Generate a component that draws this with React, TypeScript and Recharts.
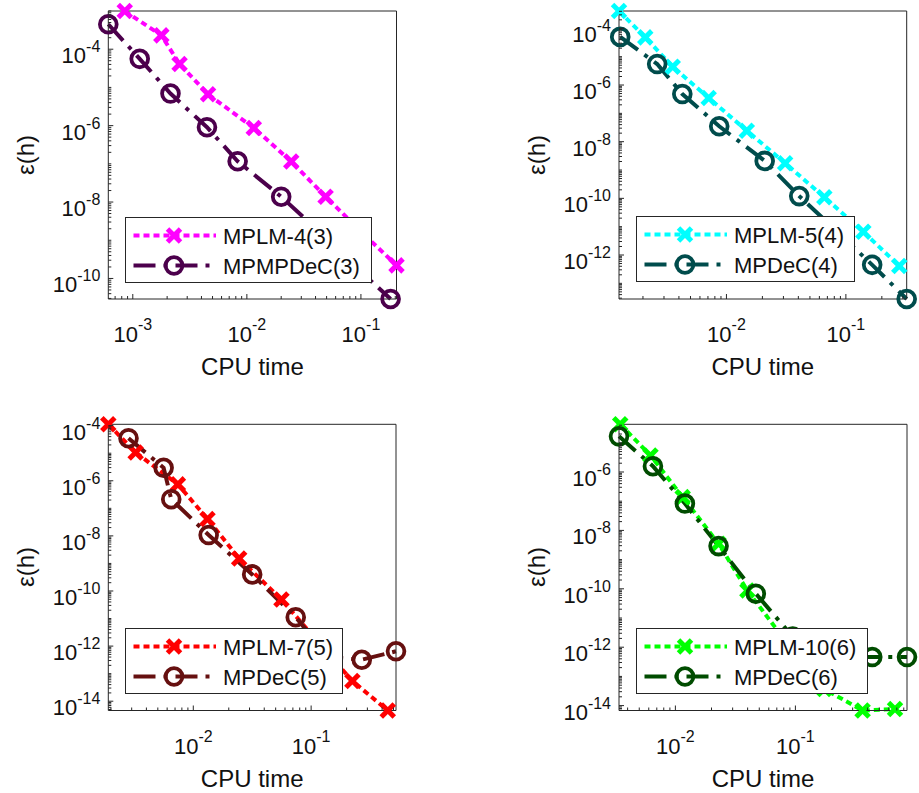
import React from "react";
import { ComposedChart, Line, XAxis, YAxis, Legend } from "recharts";

// CPU time (s) and error eps(h) per scheme, one pair of arrays per curve
const lm43Time = [8.5e-4, 1.78e-3, 2.57e-3, 4.57e-3, 1.15e-2, 2.45e-2, 4.9e-2, 1.0e-1, 0.205];
const lm43Err = [1.0e-3, 2.3e-4, 4.1e-5, 6.6e-6, 8.7e-7, 1.15e-7, 1.38e-8, 1.7e-9, 2.2e-10];
const dec3Time = [6.1e-4, 1.15e-3, 2.14e-3, 4.47e-3, 8.3e-3, 2.0e-2, 4.2e-2, 8.7e-2, 0.182];
const dec3Err = [4.5e-4, 5.6e-5, 6.9e-6, 9.1e-7, 1.17e-7, 1.38e-8, 1.8e-9, 2.2e-10, 2.9e-11];

const lm54Time = [1.26e-3, 2.09e-3, 3.55e-3, 7.1e-3, 1.48e-2, 3.1e-2, 6.6e-2, 0.14, 0.28];
const lm54Err = [4.1e-4, 4.8e-5, 4.4e-6, 3.5e-7, 2.45e-8, 1.74e-9, 1.1e-10, 6.6e-12, 4.1e-13];
const dec4Time = [1.29e-3, 2.63e-3, 4.27e-3, 8.7e-3, 2.09e-2, 4.07e-2, 8.1e-2, 0.166, 0.323];
const dec4Err = [5.0e-5, 5.5e-6, 4.8e-7, 3.5e-8, 2.1e-9, 1.2e-10, 7.9e-12, 4.5e-13, 2.8e-14];

const lm75Time = [1.9e-3, 3.24e-3, 7.4e-3, 1.32e-2, 2.45e-2, 5.6e-2, 0.112, 0.224, 0.447];
const lm75Err = [1.12e-4, 1.07e-5, 7.4e-7, 4.1e-8, 1.5e-9, 4.9e-11, 1.6e-12, 5.4e-14, 4.6e-15];
const dec5Time = [2.82e-3, 5.6e-3, 6.5e-3, 1.35e-2, 3.16e-2, 7.4e-2, 0.141, 0.269, 0.525];
const dec5Err = [3.5e-5, 2.95e-6, 2.14e-7, 1.07e-8, 4.0e-10, 1.12e-11, 4.0e-13, 3.2e-13, 6.5e-13];

const lm106Time = [3.47e-3, 6.2e-3, 1.15e-2, 2.29e-2, 3.98e-2, 8.3e-2, 0.174, 0.363, 0.676];
const lm106Err = [4.3e-5, 3.7e-6, 1.38e-7, 3.5e-9, 8.7e-11, 1.6e-12, 3.7e-14, 6.8e-15, 7.6e-15];
const dec6Time = [3.39e-3, 6.5e-3, 1.2e-2, 2.29e-2, 4.68e-2, 9.5e-2, 0.209, 0.437, 0.851];
const dec6Err = [1.66e-5, 1.58e-6, 8.3e-8, 2.9e-9, 6.8e-11, 2.3e-12, 4.6e-13, 4.6e-13, 4.6e-13];

// labelled decades on each axis
const xTicksA = [1e-3, 1e-2, 1e-1];
const xTicksB = [1e-2, 1e-1];
const yTicksA = [1e-10, 1e-8, 1e-6, 1e-4];
const yTicksB = [1e-12, 1e-10, 1e-8, 1e-6, 1e-4];
const yTicksC = [1e-14, 1e-12, 1e-10, 1e-8, 1e-6, 1e-4];
const yTicksD = [1e-14, 1e-12, 1e-10, 1e-8, 1e-6];

const FONT = '"Liberation Sans", Arial, Helvetica, sans-serif';
const AXIS = "#262626";
const DOTTED = "6 4";
const DASHDOT = "22 8 4 8";

const toPts = (xs: number[], ys: number[]) => xs.map((x, i) => ({ x, y: ys[i] }));

type Series = { name: string; time: number[]; err: number[]; color: string; kind: "lm" | "dec" };

// plot box of each panel, in page pixels, relative to its own cell
const panels = [
  {
    left: 0, top: 0, width: 460, height: 396,
    box: { left: 108.3, top: 11, right: 396.5, bottom: 299 },
    xTicks: xTicksA, yTicks: yTicksA,
    legend: { left: 125, top: 216.5, width: 247 },
    series: [
      { name: "MPLM-4(3)", time: lm43Time, err: lm43Err, color: "#FF00FF", kind: "lm" },
      { name: "MPMPDeC(3)", time: dec3Time, err: dec3Err, color: "#4C004C", kind: "dec" },
    ] as Series[],
  },
  {
    left: 460, top: 0, width: 459, height: 396,
    box: { left: 159, top: 11, right: 446.7, bottom: 299 },
    xTicks: xTicksB, yTicks: yTicksB,
    legend: { left: 176, top: 216, width: 219 },
    series: [
      { name: "MPLM-5(4)", time: lm54Time, err: lm54Err, color: "#00FFFF", kind: "lm" },
      { name: "MPDeC(4)", time: dec4Time, err: dec4Err, color: "#004C4C", kind: "dec" },
    ] as Series[],
  },
  {
    left: 0, top: 396, width: 460, height: 397,
    box: { left: 108.3, top: 28.3, right: 396, bottom: 314.5 },
    xTicks: xTicksB, yTicks: yTicksC,
    legend: { left: 125, top: 232.3, width: 218 },
    series: [
      { name: "MPLM-7(5)", time: lm75Time, err: lm75Err, color: "#FF0000", kind: "lm" },
      { name: "MPDeC(5)", time: dec5Time, err: dec5Err, color: "#661010", kind: "dec" },
    ] as Series[],
  },
  {
    left: 460, top: 396, width: 459, height: 397,
    box: { left: 159, top: 28.3, right: 447, bottom: 314.5 },
    xTicks: xTicksB, yTicks: yTicksD,
    legend: { left: 176, top: 232.3, width: 232 },
    series: [
      { name: "MPLM-10(6)", time: lm106Time, err: lm106Err, color: "#00FF00", kind: "lm" },
      { name: "MPDeC(6)", time: dec6Time, err: dec6Err, color: "#004C00", kind: "dec" },
    ] as Series[],
  },
];

// all k*10^n ticks inside [lo, hi]
const logTicks = (lo: number, hi: number) => {
  const out: number[] = [];
  for (let n = Math.floor(Math.log10(lo)); n <= Math.ceil(Math.log10(hi)); n++) {
    for (let k = 1; k <= 9; k++) {
      const v = k * Math.pow(10, n);
      if (v >= lo && v <= hi) out.push(v);
    }
  }
  return out;
};

const Cross = ({ cx, cy, color }: any) => (
  <g stroke={color} strokeWidth={5}>
    <line x1={cx - 6.5} y1={cy - 6.5} x2={cx + 6.5} y2={cy + 6.5} />
    <line x1={cx - 6.5} y1={cy + 6.5} x2={cx + 6.5} y2={cy - 6.5} />
  </g>
);

const Ring = ({ cx, cy, color }: any) => (
  <circle cx={cx} cy={cy} r={8.4} fill="none" stroke={color} strokeWidth={3.8} />
);

const Mark = ({ kind, ...rest }: any) => (kind === "lm" ? <Cross {...rest} /> : <Ring {...rest} />);

const makeTick = (side: "bottom" | "top" | "left" | "right", labelled: number[]) => (p: any) => {
  const { x, y, payload } = p;
  const v = payload.value;
  const major = labelled.some((t) => Math.abs(t - v) / t < 1e-9);
  const len = major ? 5 : 3;
  const exp = Math.round(Math.log10(v));
  let tick;
  if (side === "bottom") tick = <line x1={x} y1={y} x2={x} y2={y - len} />;
  else if (side === "top") tick = <line x1={x} y1={y} x2={x} y2={y + len} />;
  else if (side === "left") tick = <line x1={x} y1={y} x2={x + len} y2={y} />;
  else tick = <line x1={x} y1={y} x2={x - len} y2={y} />;
  return (
    <g>
      <g stroke={AXIS} strokeWidth={1}>{tick}</g>
      {major && side === "bottom" && (
        <text x={x} y={y + 43} textAnchor="middle" fontSize={22} fontFamily={FONT} fill="#111">
          <tspan>10</tspan>
          <tspan dy={-12} fontSize={16}>{exp}</tspan>
        </text>
      )}
      {major && side === "left" && (
        <text x={x - 8} y={y + 14} textAnchor="end" fontSize={22} fontFamily={FONT} fill="#111">
          <tspan>10</tspan>
          <tspan dy={-11} fontSize={16}>{exp}</tspan>
        </text>
      )}
    </g>
  );
};

const LegendBox = ({ series, width }: { series: Series[]; width: number }) => (
  <svg width={width} height={66} style={{ display: "block" }}>
    <rect x={0.5} y={0.5} width={width - 1} height={65} fill="#fff" stroke={AXIS} strokeWidth={1} />
    {series.map((s, i) => {
      const cy = 18.5 + i * 30;
      return (
        <g key={s.name}>
          <line
            x1={8.5}
            x2={91}
            y1={cy}
            y2={cy}
            stroke={s.color}
            strokeWidth={4}
            strokeDasharray={s.kind === "lm" ? DOTTED : DASHDOT}
          />
          <Mark kind={s.kind} cx={49} cy={cy} color={s.color} />
          <text x={98} y={cy + 8} fontSize={22} fontFamily={FONT} fill="#111">
            {s.name}
          </text>
        </g>
      );
    })}
  </svg>
);

const AX = 1; // thickness reserved by each axis

const Panel = ({ cfg }: { cfg: (typeof panels)[number] }) => {
  const allX = cfg.series.flatMap((s) => s.time);
  const allY = cfg.series.flatMap((s) => s.err);
  const xDomain = [Math.min(...allX), Math.max(...allX)];
  const yDomain = [Math.min(...allY), Math.max(...allY)];
  const xAll = logTicks(xDomain[0], xDomain[1]);
  const yAll = logTicks(yDomain[0], yDomain[1]);
  const b = cfg.box;
  const margin = {
    top: b.top - AX,
    left: b.left - AX,
    right: cfg.width - b.right - AX,
    bottom: cfg.height - b.bottom - AX,
  };
  const titleStyle: React.CSSProperties = {
    position: "absolute",
    fontFamily: FONT,
    fontSize: 24,
    color: "#111",
    whiteSpace: "nowrap",
  };

  const xProps = {
    dataKey: "x",
    type: "number" as const,
    scale: "log" as const,
    domain: xDomain,
    ticks: xAll,
    interval: 0 as const,
    height: AX,
    tickSize: 0,
    tickMargin: 0,
    tickLine: false,
    axisLine: { stroke: AXIS, strokeWidth: 1 },
  };
  const yProps = {
    dataKey: "y",
    type: "number" as const,
    scale: "log" as const,
    domain: yDomain,
    ticks: yAll,
    interval: 0 as const,
    width: AX,
    tickSize: 0,
    tickMargin: 0,
    tickLine: false,
    axisLine: { stroke: AXIS, strokeWidth: 1 },
  };

  return (
    <div style={{ position: "absolute", left: cfg.left, top: cfg.top, width: cfg.width, height: cfg.height }}>
      <ComposedChart width={cfg.width} height={cfg.height} margin={margin}>
        <XAxis xAxisId="b" {...xProps} tick={makeTick("bottom", cfg.xTicks)} />
        <XAxis xAxisId="t" orientation="top" {...xProps} tick={makeTick("top", cfg.xTicks)} />
        <YAxis yAxisId="l" {...yProps} tick={makeTick("left", cfg.yTicks)} />
        <YAxis yAxisId="r" orientation="right" {...yProps} tick={makeTick("right", cfg.yTicks)} />
        {cfg.series.map((s) => (
          <Line
            key={s.name}
            xAxisId="b"
            yAxisId="l"
            data={toPts(s.time, s.err)}
            dataKey="y"
            name={s.name}
            type="linear"
            stroke={s.color}
            strokeWidth={4}
            strokeDasharray={s.kind === "lm" ? DOTTED : DASHDOT}
            isAnimationActive={false}
            activeDot={false}
            dot={(p: any) => <Mark key={`${s.name}-${p.index}`} kind={s.kind} cx={p.cx} cy={p.cy} color={s.color} />}
          />
        ))}
        <Legend
          layout="vertical"
          align="center"
          verticalAlign="middle"
          wrapperStyle={{ left: cfg.legend.left, top: cfg.legend.top, width: cfg.legend.width, height: 66 }}
          content={() => <LegendBox series={cfg.series} width={cfg.legend.width} />}
        />
      </ComposedChart>
      <div
        style={{
          ...titleStyle,
          left: (b.left + b.right) / 2,
          top: b.bottom + 68,
          transform: "translate(-50%, -50%)",
        }}
      >
        CPU time
      </div>
      <div
        style={{
          ...titleStyle,
          left: b.left - 82,
          top: (b.top + b.bottom) / 2,
          transform: "translate(-50%, -50%) rotate(-90deg)",
        }}
      >
        ε(h)
      </div>
    </div>
  );
};

export default function App() {
  return (
    <div style={{ position: "absolute", left: 0, top: 0, width: 919, height: 793, background: "#fff" }}>
      {panels.map((cfg, i) => (
        <Panel key={i} cfg={cfg} />
      ))}
    </div>
  );
}
